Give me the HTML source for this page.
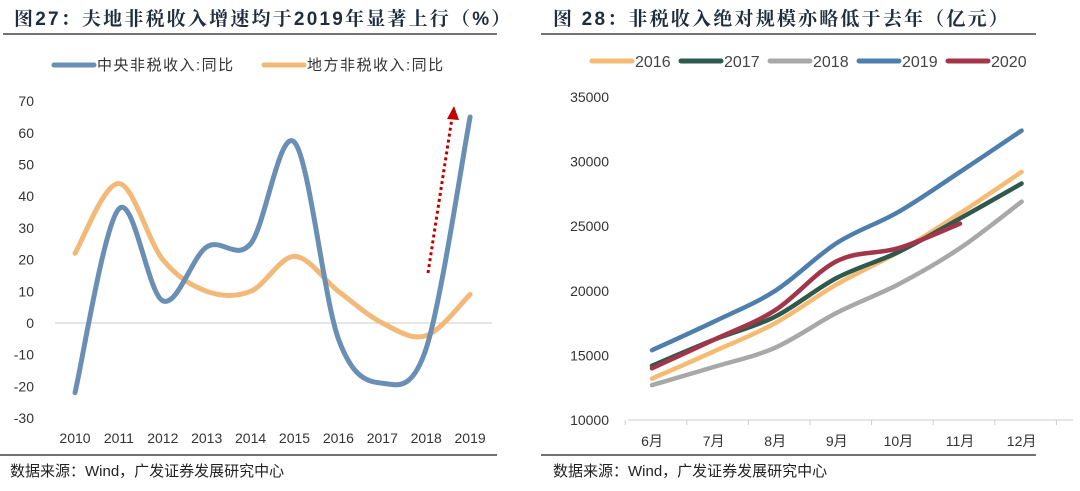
<!DOCTYPE html>
<html><head><meta charset="utf-8"><style>
body{margin:0;background:#fff;width:1080px;height:486px;overflow:hidden;font-family:"Liberation Sans","Noto Sans CJK SC",sans-serif}
svg text{font-family:"Liberation Sans","Noto Sans CJK SC",sans-serif}
svg text.ttl{font-family:"Liberation Sans","Noto Serif CJK SC",serif}
</style></head><body>
<svg width="1080" height="486">
<g>
<text class="ttl" x="14" y="25" font-size="19" letter-spacing="2.2" font-weight="bold" fill="#1f2d3d">图27：夫地非税收入增速均于2019年显著上行（%）</text>
<line x1="3" y1="34" x2="497" y2="34" stroke="#222" stroke-width="1.2"/>
<g id="lchart"></g>
<line x1="0" y1="455" x2="497" y2="455" stroke="#444" stroke-width="1.5"/>
<text x="10" y="476" font-size="15" fill="#222">数据来源：Wind，广发证券发展研究中心</text>
</g>
<g>
<text class="ttl" x="553" y="25" font-size="19" letter-spacing="2.2" font-weight="bold" fill="#1f2d3d">图 28：非税收入绝对规模亦略低于去年（亿元）</text>
<line x1="541" y1="34" x2="1036" y2="34" stroke="#222" stroke-width="1.2"/>
<g id="rchart"></g>
<line x1="541" y1="455" x2="1036" y2="455" stroke="#444" stroke-width="1.5"/>
<text x="553" y="476" font-size="15" fill="#222">数据来源：Wind，广发证券发展研究中心</text>
</g>
</svg>
<script>
const years=["2010","2011","2012","2013","2014","2015","2016","2017","2018","2019"];
const central=[-22,36,7,24,25,57,-5,-19,-8,65];
const local=[22,44,20,10,10,21,10,0,-4,9];
const leftTicks=[70,60,50,40,30,20,10,0,-10,-20,-30];
const months=["6月","7月","8月","9月","10月","11月","12月"];
const s2016=[13200,15300,17500,20500,23000,26000,29200];
const s2017=[14200,16200,18000,21000,23000,25600,28300];
const s2018=[12700,14100,15600,18300,20500,23300,26900];
const s2019=[15400,17600,20000,23700,26100,29200,32400];
const s2020=[14000,16200,18500,22300,23300,25200];
const rightTicks=[35000,30000,25000,20000,15000,10000];
const NS="http://www.w3.org/2000/svg";
function mk(p,t,a){const e=document.createElementNS(NS,t);for(const k in a)e.setAttribute(k,a[k]);p.appendChild(e);return e;}
function smooth(pts){let d="M"+pts[0][0]+","+pts[0][1];for(let i=0;i<pts.length-1;i++){const p0=pts[i-1]||pts[i],p1=pts[i],p2=pts[i+1],p3=pts[i+2]||p2;const c1=[p1[0]+(p2[0]-p0[0])/6,p1[1]+(p2[1]-p0[1])/6],c2=[p2[0]-(p3[0]-p1[0])/6,p2[1]-(p3[1]-p1[1])/6];d+=" C"+c1+" "+c2+" "+p2;}return d;}
const L=document.getElementById('lchart');
const lx=i=>75+i*43.9, ly=v=>323-v*3.17;
leftTicks.forEach(v=>{const t=mk(L,'text',{x:34,y:ly(v)+5,'text-anchor':'end','font-size':14,fill:'#333'});t.textContent=v;

});
const zl=mk(L,'line',{x1:55,y1:ly(0),x2:492,y2:ly(0),stroke:'#ccc','stroke-width':1});


years.forEach((y,i)=>{const t=mk(L,'text',{x:lx(i),y:443,'text-anchor':'middle','font-size':14,fill:'#333'});t.textContent=y;

});
const pl=mk(L,'path',{d:smooth(local.map((v,i)=>[lx(i),ly(v)])),fill:'none',stroke:'#f2b978','stroke-width':5,'stroke-linecap':'round'});


const pc=mk(L,'path',{d:smooth(central.map((v,i)=>[lx(i),ly(v)])),fill:'none',stroke:'#6a8fb5','stroke-width':5,'stroke-linecap':'round'});


const ar=mk(L,'line',{x1:428,y1:273,x2:452,y2:118,stroke:'#c00000','stroke-width':3,'stroke-dasharray':'3 3'});


const ah=mk(L,'polygon',{points:'454,106 447,119 459,120',fill:'#c00000'});


[['中央非税收入:同比','#6a8fb5',54],['地方非税收入:同比','#f2b978',264]].forEach(([n,c,x])=>{
const g=mk(L,'g',{});
mk(g,'line',{x1:x,y1:65,x2:x+40,y2:65,stroke:c,'stroke-width':5,'stroke-linecap':'round'});
const t=mk(g,'text',{x:x+43,y:70,'font-size':15,'letter-spacing':1.5,fill:'#333'});t.textContent=n;});
const R=document.getElementById('rchart');
const rx=i=>652+i*61.6, ry=v=>420-(v-10000)*0.01292;
rightTicks.forEach(v=>{const t=mk(R,'text',{x:609,y:ry(v)+5,'text-anchor':'end','font-size':14,fill:'#333'});t.textContent=v;

});
const ax=mk(R,'line',{x1:628,y1:420,x2:1073,y2:420,stroke:'#ccc','stroke-width':1});


for(let i=0;i<=7;i++){const tk=mk(R,'line',{x1:rx(i)-30.8+4,y1:420,x2:rx(i)-30.8+4,y2:425,stroke:'#ccc'});}
months.forEach((m,i)=>{const t=mk(R,'text',{x:rx(i),y:446,'text-anchor':'middle','font-size':14,fill:'#333'});t.textContent=m;

});
const series=[['2016',s2016,'#f5bb72'],['2017',s2017,'#2e5a4e'],['2018',s2018,'#a8a8a8'],['2019',s2019,'#4e7fac'],['2020',s2020,'#a3354a']];
series.forEach(([n,d,c],k)=>{
const p=mk(R,'path',{d:smooth(d.map((v,i)=>[rx(i),ry(v)])),fill:'none',stroke:c,'stroke-width':4.5,'stroke-linecap':'round'});


const x=592+k*89;
const g=mk(R,'g',{});
mk(g,'line',{x1:x,y1:61,x2:x+40,y2:61,stroke:c,'stroke-width':5,'stroke-linecap':'round'});
const t=mk(g,'text',{x:x+43,y:67,'font-size':16,fill:'#444'});t.textContent=n;});
</script>
</body></html>
